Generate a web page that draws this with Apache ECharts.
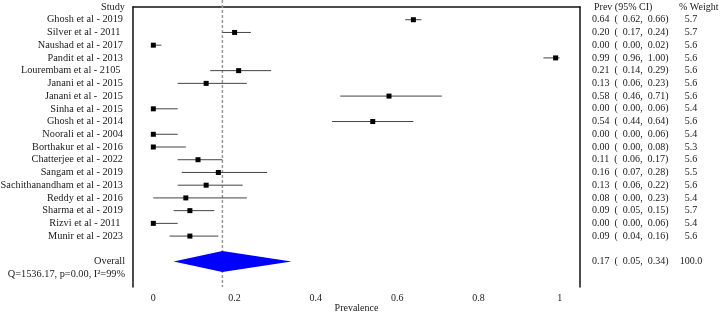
<!DOCTYPE html>
<html>
<head>
<meta charset="utf-8">
<script src="https://cdn.jsdelivr.net/npm/echarts@6/dist/echarts.min.js"></script>
<style>
html, body { margin: 0; padding: 0; background: #fff; }
#main { width: 722px; height: 314px; }
</style>
</head>
<body>
<div id="main"></div>
<script>
// study data
var studies = ["Ghosh et al - 2019", "Silver et al - 2011 ", "Naushad et al - 2017", "Pandit et al - 2013",
  "Lourembam et al - 2105 ", "Janani et al - 2015", "Janani et al -  2015", "Sinha et al - 2015",
  "Ghosh et al - 2014", "Noorali et al - 2004", "Borthakur et al - 2016", "Chatterjee et al - 2022",
  "Sangam et al - 2019", "Sachithanandham et al - 2013", "Reddy et al - 2016", "Sharma et al - 2019",
  "Rizvi et al - 2011 ", "Munir et al - 2023"];
var prev   = [0.64, 0.20, 0.00, 0.99, 0.21, 0.13, 0.58, 0.00, 0.54, 0.00, 0.00, 0.11, 0.16, 0.13, 0.08, 0.09, 0.00, 0.09];
var lower  = [0.62, 0.17, 0.00, 0.96, 0.14, 0.06, 0.46, 0.00, 0.44, 0.00, 0.00, 0.06, 0.07, 0.06, 0.00, 0.05, 0.00, 0.04];
var upper  = [0.66, 0.24, 0.02, 1.00, 0.29, 0.23, 0.71, 0.06, 0.64, 0.06, 0.08, 0.17, 0.28, 0.22, 0.23, 0.15, 0.06, 0.16];
var weight = [5.7, 5.7, 5.6, 5.6, 5.6, 5.6, 5.6, 5.4, 5.6, 5.4, 5.3, 5.6, 5.5, 5.6, 5.4, 5.7, 5.4, 5.6];

// pooled estimate
var overall = { est: 0.17, lo: 0.05, hi: 0.34, weight: 100.0 };
var hetText = "Q=1536.17, p=0.00, I\u00B2=99%";
var xTicks = [0, 0.2, 0.4, 0.6, 0.8, 1];

var FONT = "Liberation Serif";
var FS = 10;
var TXT = "#1a1a1a";

// rows: 0 = header, 1..18 studies, 20 = overall, 21 = heterogeneity
var rowsData = [];
for (var i = 0; i < studies.length; i++) {
  rowsData.push([i, i + 1]);
}

function fmtCI(p, l, u) {
  return p.toFixed(2) + "  (  " + l.toFixed(2) + ",  " + u.toFixed(2) + ")";
}

function textEl(x, y, str, align, size) {
  return {
    type: "text",
    style: { x: x, y: y, text: str, fill: TXT, font: (size || FS) + "px '" + FONT + "'", align: align, verticalAlign: "middle" }
  };
}

var myChart = echarts.init(document.getElementById("main"));
var option = {
  animation: false,
  backgroundColor: "#fff",
  grid: { left: 133, right: 142, top: 7, bottom: 27, outerBoundsMode: "none", containLabel: false },
  xAxis: {
    type: "value", min: -0.05, max: 1.05,
    name: "Prevalence", nameLocation: "middle", nameGap: 16, nameMoveOverlap: false,
    nameTextStyle: { fontFamily: FONT, fontSize: FS, color: TXT },
    axisLine: { show: true, lineStyle: { color: "#111", width: 1.5 } },
    axisTick: { show: false },
    splitLine: { show: false },
    axisLabel: {
      customValues: xTicks, margin: 6,
      fontFamily: FONT, fontSize: FS, color: TXT,
      formatter: function (v) { return String(Math.round(v * 10) / 10); }
    }
  },
  yAxis: [
    { type: "value", min: 0, max: 22, inverse: true, position: "left",
      axisLine: { show: true, onZero: false, lineStyle: { color: "#111", width: 1.5 } },
      axisTick: { show: false }, axisLabel: { show: false }, splitLine: { show: false } },
    { type: "value", min: 0, max: 22, inverse: true, position: "right",
      axisLine: { show: true, onZero: false, lineStyle: { color: "#111", width: 1.5 } },
      axisTick: { show: false }, axisLabel: { show: false }, splitLine: { show: false } }
  ],
  series: [
    // reference line at pooled estimate
    {
      type: "custom", clip: false, silent: true,
      data: [[overall.est]],
      renderItem: function (params, api) {
        var a = api.coord([api.value(0), 0]);
        var b = api.coord([api.value(0), 22]);
        return { type: "line", shape: { x1: a[0], y1: a[1] - 7, x2: b[0], y2: b[1] },
          style: { stroke: "#999", lineWidth: 1.5, lineDash: [3, 2] } };
      }
    },
    // study CIs and point estimates
    {
      type: "custom", clip: false, silent: true,
      data: rowsData,
      renderItem: function (params, api) {
        var i = api.value(0), row = api.value(1);
        var l = api.coord([lower[i], row]);
        var u = api.coord([upper[i], row]);
        var p = api.coord([prev[i], row]);
        var s = 5;
        return { type: "group", children: [
          { type: "line", shape: { x1: l[0], y1: l[1], x2: u[0], y2: u[1] }, style: { stroke: "#444", lineWidth: 1 } },
          { type: "rect", shape: { x: p[0] - s / 2, y: p[1] - s / 2, width: s, height: s }, style: { fill: "#000" } }
        ] };
      }
    },
    // pooled diamond
    {
      type: "custom", clip: false, silent: true,
      data: [[overall.lo, overall.est, overall.hi, 20]],
      renderItem: function (params, api) {
        var row = api.value(3);
        var l = api.coord([api.value(0), row]);
        var c = api.coord([api.value(1), row]);
        var r = api.coord([api.value(2), row]);
        var h = 10.5;
        return { type: "polygon",
          shape: { points: [[l[0], l[1]], [c[0], c[1] - h], [r[0], r[1]], [c[0], c[1] + h]] },
          style: { fill: "#0000ff" } };
      }
    },
    // text columns
    {
      type: "custom", clip: false, silent: true,
      data: rowsData,
      renderItem: function (params, api) {
        var i = api.value(0), row = api.value(1);
        var y = api.coord([0, row])[1];
        return { type: "group", children: [
          textEl(123, y, studies[i], "right", 10.3),
          textEl(592, y, fmtCI(prev[i], lower[i], upper[i]), "left"),
          textEl(691, y, weight[i].toFixed(1), "center")
        ] };
      }
    },
    // header, overall and heterogeneity rows
    {
      type: "custom", clip: false, silent: true,
      data: [[0]],
      renderItem: function (params, api) {
        var y0 = api.coord([0, 0])[1];
        var y20 = api.coord([0, 20])[1];
        var y21 = api.coord([0, 21])[1];
        return { type: "group", children: [
          textEl(125, y0, "Study", "right", 10.3),
          textEl(594, y0, "Prev (95% CI)", "left"),
          textEl(679, y0, "% Weight", "left"),
          textEl(125, y20, "Overall", "right", 10.3),
          textEl(592, y20, fmtCI(overall.est, overall.lo, overall.hi), "left"),
          textEl(691, y20, overall.weight.toFixed(1), "center"),
          textEl(125, y21, hetText, "right", 10.3)
        ] };
      }
    }
  ]
};
myChart.setOption(option);
</script>
</body>
</html>
